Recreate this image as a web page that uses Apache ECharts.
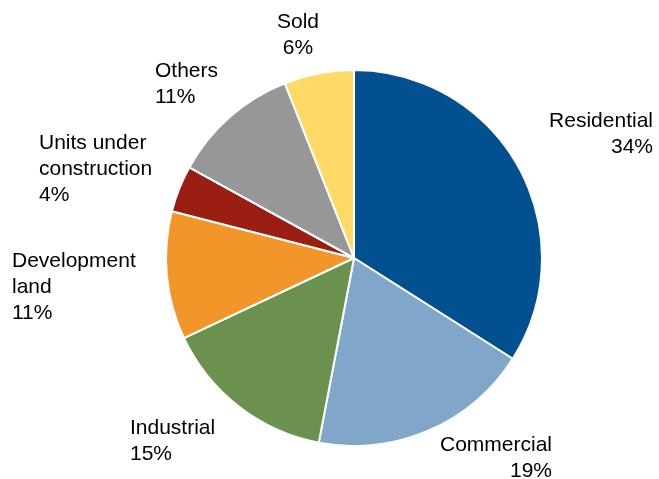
<!DOCTYPE html>
<html>
<head>
<meta charset="utf-8">
<script src="https://cdn.jsdelivr.net/npm/echarts@6/dist/echarts.min.js"></script>
<style>
  html, body { margin: 0; padding: 0; background: #ffffff; }
  #chart { width: 659px; height: 479px; }
</style>
</head>
<body>
<div id="chart"></div>
<script>
// Portfolio breakdown by category (share, %)
const categories = ['Residential', 'Commercial', 'Industrial', 'Development land', 'Units under construction', 'Others', 'Sold'];
const shares = [34, 19, 15, 11, 4, 11, 6];
// Label text as it is wrapped on the chart
const labelNames = ['Residential', 'Commercial', 'Industrial', 'Development\nland', 'Units under\nconstruction', 'Others', 'Sold'];
const colors = ['#02508f', '#80a7c9', '#6b914f', '#f3962a', '#9b1e12', '#979797', '#ffd966'];

// Label anchor per slice: x, top y, horizontal alignment
const labelSpots = [
  [653, 108, 'right'],
  [552, 432, 'right'],
  [130, 415, 'left'],
  [12, 248, 'left'],
  [39, 130, 'left'],
  [155, 58, 'left'],
  [298, 9, 'center']
];

const chart = echarts.init(document.getElementById('chart'), null, { renderer: 'canvas' });

chart.setOption({
  backgroundColor: '#ffffff',
  animation: false,
  series: [{
    type: 'pie',
    center: [354, 258],
    radius: 188,
    startAngle: 90,
    clockwise: true,
    avoidLabelOverlap: false,
    itemStyle: { borderColor: '#ffffff', borderWidth: 2 },
    label: {
      show: true,
      position: 'outside',
      fontFamily: 'Liberation Sans, Arial, sans-serif',
      fontSize: 21,
      lineHeight: 26,
      color: '#000000',
      formatter: p => labelNames[p.dataIndex] + '\n' + p.value + '%'
    },
    labelLine: { show: false },
    labelLayout: p => {
      const s = labelSpots[p.dataIndex];
      return { x: s[0], y: s[1], align: s[2], verticalAlign: 'top' };
    },
    emphasis: { disabled: true },
    data: categories.map((c, i) => ({
      name: c,
      value: shares[i],
      itemStyle: { color: colors[i] }
    }))
  }]
});
</script>
</body>
</html>
